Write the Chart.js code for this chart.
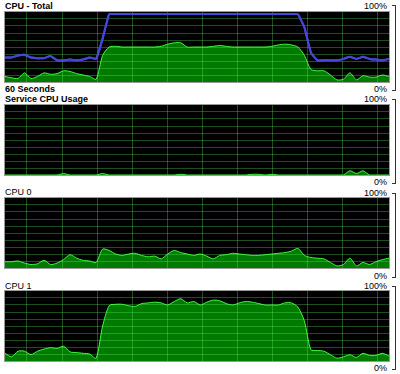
<!DOCTYPE html>
<html>
<head>
<meta charset="utf-8">
<script src="https://cdn.jsdelivr.net/npm/chart.js@4/dist/chart.umd.min.js"></script>
<style>
  body { margin: 0; background: #fff; width: 400px; height: 374px; position: relative; overflow: hidden;
         font-family: "Liberation Sans", "DejaVu Sans", sans-serif; color: #000; }
  .lbl { position: absolute; font-size: 9px; line-height: 10px; white-space: nowrap; }
  .b { font-weight: bold; }
  .pct { position: absolute; font-size: 9px; line-height: 10px; right: 13px; text-align: right; }
  .brk { position: absolute; left: 392px; width: 3px; border-top: 1px solid #333; border-bottom: 1px solid #333; border-right: 1px solid #333; }
  .plot { position: absolute; left: 4px; width: 384px; height: 70px; border: 1px solid #999; background: #000; }
</style>
</head>
<body>
<div class="lbl b" style="left:5px;top:1px">CPU - Total</div>
<div class="lbl b" style="left:5px;top:84px">60 Seconds</div>
<div class="lbl b" style="left:5px;top:94px">Service CPU Usage</div>
<div class="lbl" style="left:5px;top:187px">CPU 0</div>
<div class="lbl" style="left:5px;top:281px">CPU 1</div>

<div class="pct" style="top:1px">100%</div><div class="pct" style="top:84px">0%</div>
<div class="brk" style="top:5px;height:84px"></div>
<div class="pct" style="top:94px">100%</div><div class="pct" style="top:177px">0%</div>
<div class="brk" style="top:99px;height:83px"></div>
<div class="pct" style="top:188px">100%</div><div class="pct" style="top:271px">0%</div>
<div class="brk" style="top:193px;height:83px"></div>
<div class="pct" style="top:281px">100%</div><div class="pct" style="top:363px">0%</div>
<div class="brk" style="top:286px;height:82px"></div>

<div class="plot" style="top:11px"><canvas id="c1"></canvas></div>
<div class="plot" style="top:104px"><canvas id="c2"></canvas></div>
<div class="plot" style="top:197px"><canvas id="c3"></canvas></div>
<div class="plot" style="top:290px"><canvas id="c4"></canvas></div>

<script>
// one sample per second, 60 samples
const totalLine = [35, 35, 38, 39, 35, 34, 34, 37, 31, 31, 32, 31, 32, 35, 33, 62, 97, 97, 97, 97,
                   97, 97, 97, 97, 97, 97, 97, 97, 97, 97, 97, 97, 97, 97, 97, 97, 97, 97, 97, 97,
                   97, 97, 97, 97, 97, 97, 78, 42, 31, 31, 31, 31, 33, 36, 33, 36, 33, 32, 31, 33];
const totalArea = [8, 6, 5, 13, 5, 8, 13, 11, 12, 16, 15, 12, 10, 8, 4, 38, 50, 51, 50, 50,
                   50, 50, 50, 50, 51, 54, 56, 56, 50, 50, 50, 50, 51, 52, 51, 50, 50, 50, 50, 50,
                   50, 51, 53, 54, 53, 50, 38, 18, 16, 16, 10, 3, 4, 13, 3, 9, 7, 7, 10, 8];
const serviceCpu = [0, 0, 0, 0, 0, 0, 0, 0, 0, 2, 0, 0, 0, 0, 0, 2, 0, 0, 0, 0,
                    0, 0, 0, 0, 0, 0, 0, 1, 0, 0, 0, 0, 0, 0, 0, 0, 0, 0, 1, 1,
                    0, 1, 0, 0, 0, 0, 0, 0, 0, 0, 0, 0, 0, 6, 2, 6, 0, 0, 0, 0];
const cpu0 = [9, 9, 10, 7, 5, 6, 11, 5, 7, 12, 19, 14, 11, 10, 8, 27, 25, 20, 18, 20,
              21, 18, 16, 17, 13, 20, 25, 22, 20, 18, 20, 17, 13, 18, 19, 21, 20, 19, 18, 18,
              19, 20, 21, 22, 24, 28, 18, 15, 14, 13, 8, 3, 5, 14, 3, 8, 5, 9, 12, 14];
const cpu1 = [11, 6, 14, 14, 9, 14, 17, 19, 18, 21, 13, 12, 11, 10, 4, 50, 79, 81, 81, 79,
              78, 82, 83, 84, 83, 80, 85, 89, 83, 85, 80, 84, 87, 86, 82, 80, 83, 85, 84, 82,
              80, 80, 80, 83, 83, 77, 57, 16, 15, 14, 9, 4, 6, 9, 5, 11, 8, 8, 11, 7];

const gridColor = 'rgba(100,255,100,0.3)';

function pts(arr) { return arr.map((v, i) => ({ x: i, y: v })); }

function areaSet(arr) {
    return { data: pts(arr), fill: 'origin', backgroundColor: '#007a00', borderColor: '#3cff3c',
             borderWidth: 1, pointRadius: 0, tension: 0.25 };
}

// redraw the blue line after the grid so it sits on top
const onTopPlugin = {
    id: 'onTop',
    afterDraw(chart) {
        const a = chart.chartArea, ctx = chart.ctx;
        chart.data.datasets.forEach((ds, i) => {
            if (!ds.onTop) return;
            ctx.save();
            ctx.beginPath();
            ctx.rect(a.left, a.top, a.right - a.left, a.bottom - a.top);
            ctx.clip();
            chart.getDatasetMeta(i).controller.draw();
            ctx.restore();
        });
    }
};

function renderPanel(canvasId, datasets) {
    const ctx = document.getElementById(canvasId).getContext('2d');
    new Chart(ctx, {
        type: 'line',
        data: { datasets: datasets },
        plugins: [onTopPlugin],
        options: {
            responsive: true,
            maintainAspectRatio: false,
            animation: false,
            layout: { padding: 0 },
            plugins: { legend: { display: false }, tooltip: { enabled: false } },
            scales: {
                x: {
                    type: 'linear', min: 0, max: 59,
                    afterBuildTicks: s => { s.ticks = []; for (let k = 0; k < 11; k++) s.ticks.push({ value: 3.38 + 5.385 * k }); },
                    ticks: { display: false },
                    border: { display: false },
                    grid: { color: gridColor, drawTicks: false, z: 1 }
                },
                y: {
                    min: 0, max: 100,
                    ticks: { display: false, stepSize: 10 },
                    border: { display: false },
                    grid: { color: c => (c.tick.value === 0 || c.tick.value === 100) ? 'rgba(0,0,0,0)' : gridColor,
                            drawTicks: false, z: 1 }
                }
            }
        }
    });
}

renderPanel('c1', [
    areaSet(totalArea),
    { data: pts(totalLine), fill: false, borderColor: '#4646dc', borderWidth: 2, pointRadius: 0, tension: 0.1, onTop: true }
]);
renderPanel('c2', [areaSet(serviceCpu)]);
renderPanel('c3', [areaSet(cpu0)]);
renderPanel('c4', [areaSet(cpu1)]);
</script>
</body>
</html>
